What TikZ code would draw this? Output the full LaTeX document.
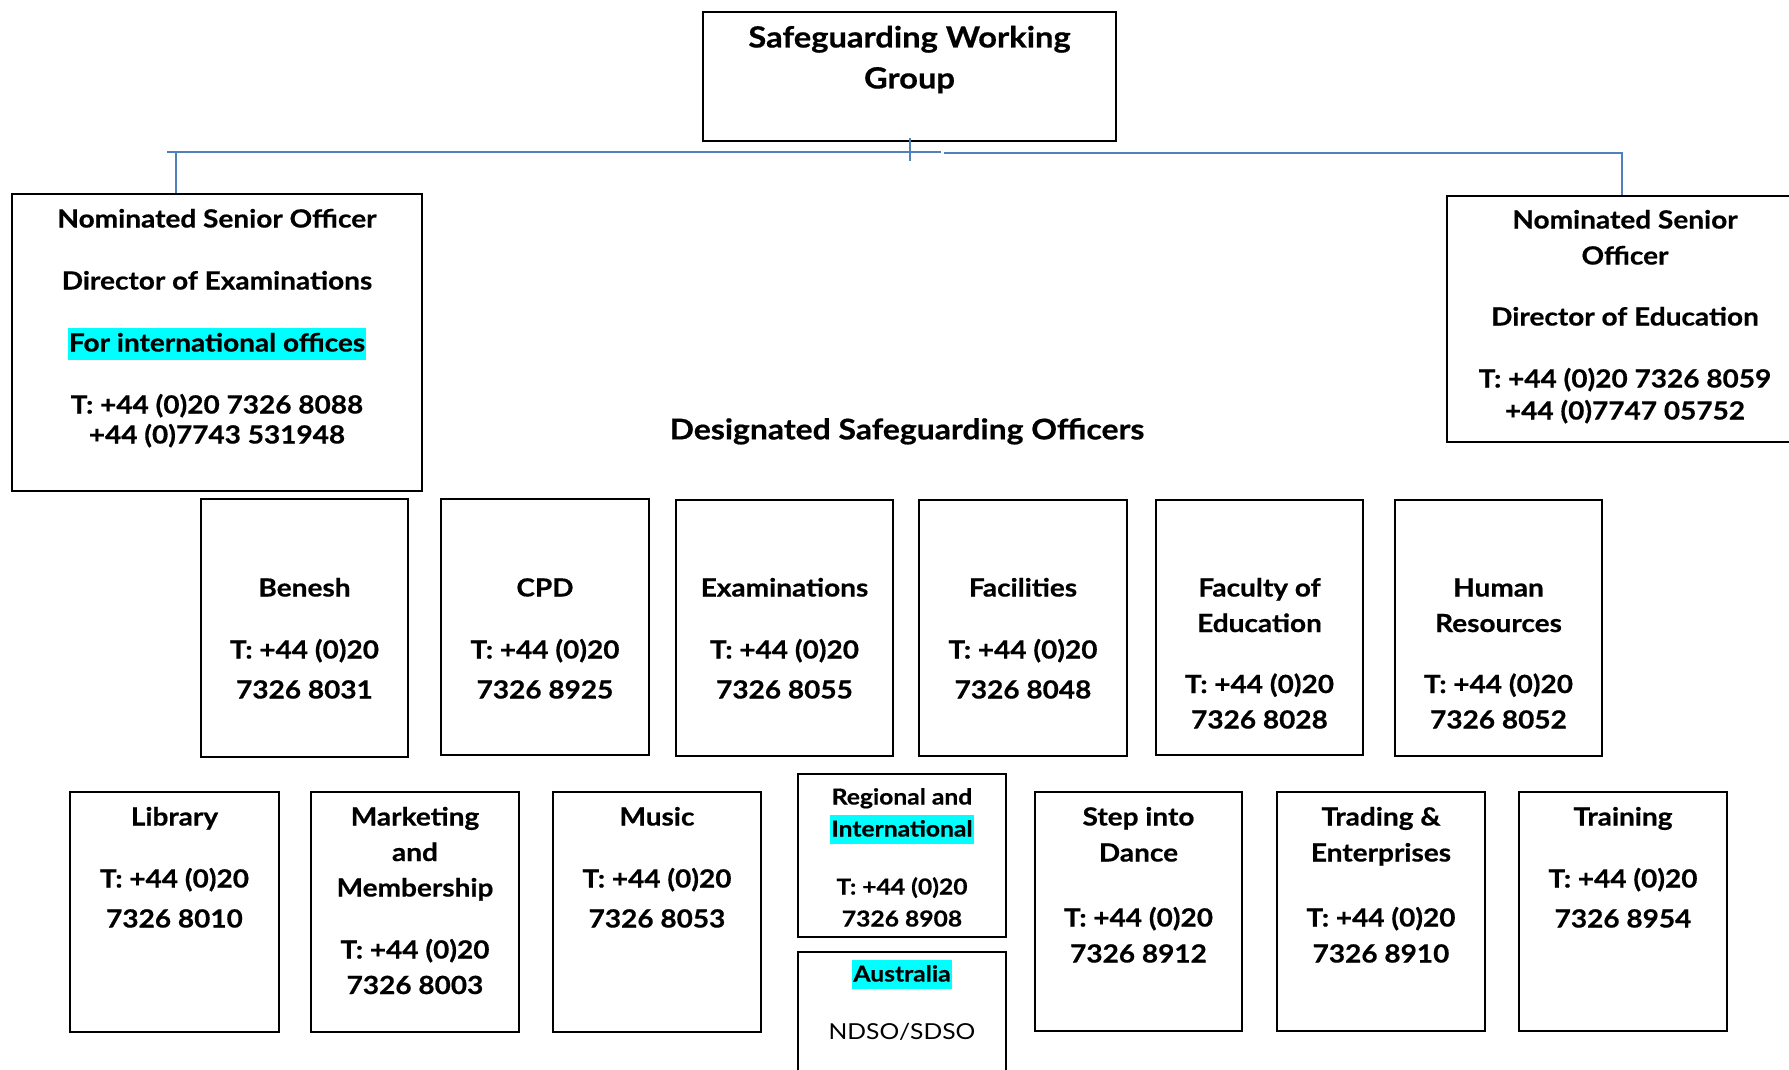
\documentclass[tikz,border=0pt]{standalone}
\usepackage{fontspec}
\setmainfont{Lato}[FakeStretch=1.12, BoldFeatures={FakeBold=0.6}]
\usetikzlibrary{fit}
\definecolor{connblue}{RGB}{79,129,189}
\definecolor{hlcyan}{RGB}{0,255,255}
% cyan text highlight
\newcommand\hilite[1]{{\setlength{\fboxsep}{0pt}\colorbox{hlcyan}{\rule[-0.32em]{0pt}{1.28em}\kern0.5pt#1\kern0.5pt}}}
% fixed height above the first baseline of every label
\newcommand\swgstrut{\rule{0pt}{14pt}}
\tikzset{
  boxed/.style={draw=black, line width=0.9pt, inner sep=0pt},
  conn/.style={draw=connblue, line width=1pt},
  txt/.style={anchor=north, align=center, inner sep=0pt, font=\bfseries\fontsize{12.5}{19}\selectfont},
  txtone/.style={txt, font=\bfseries\fontsize{12.5}{20}\selectfont},
  txttwo/.style={txt, font=\bfseries\fontsize{12.5}{17.75}\selectfont},
  txtsmall/.style={txt, font=\bfseries\fontsize{11}{16}\selectfont},
}
\begin{document}
\begin{tikzpicture}[x=0.5pt,y=-0.5pt]
\path[use as bounding box] (0,0) rectangle (1789,1070);
\clip (0,0) rectangle (1789,1070);

% ---- frames ----
\node[boxed, fit={(703,12) (1116,141)}] (swg) {};
\node[boxed, fit={(12,194) (422,491)}] (nsoL) {};
\node[boxed, fit={(1447,196) (1803,442)}] (nsoR) {};

\node[boxed, fit={(201,499) (408,757)}] (benesh) {};
\node[boxed, fit={(441,499) (649,755)}] (cpd) {};
\node[boxed, fit={(676,500) (893,756)}] (exams) {};
\node[boxed, fit={(919,500) (1127,756)}] (facil) {};
\node[boxed, fit={(1156,500) (1363,755)}] (faced) {};
\node[boxed, fit={(1395,500) (1602,756)}] (hr) {};

\node[boxed, fit={(70,792) (279,1032)}] (library) {};
\node[boxed, fit={(311,792) (519,1032)}] (marketing) {};
\node[boxed, fit={(553,792) (761,1032)}] (music) {};
\node[boxed, fit={(798,774) (1006,937)}] (regional) {};
\node[boxed, fit={(798,952) (1006,1090)}] (australia) {};
\node[boxed, fit={(1035,792) (1242,1031)}] (stepdance) {};
\node[boxed, fit={(1277,792) (1485,1031)}] (trading) {};
\node[boxed, fit={(1519,792) (1727,1031)}] (training) {};

% ---- connectors ----
\coordinate (busW) at (167,152);
\coordinate (busGap) at (941,152);
\coordinate (busE) at (944,153);
\coordinate (dropW) at (176,152);
\coordinate (dropE) at (1622,153);
\draw[conn] ([yshift=2pt]swg.south) -- ++(0,23);
\draw[conn] (busW) -- (busGap);
\draw[conn] (dropW) -- (dropW |- nsoL.north);
\draw[conn] (busE) -- (dropE) -- (dropE |- nsoR.north);

% ---- labels ----
\node[txt, font=\bfseries\fontsize{14.6}{20.5}\selectfont] (swgT) at ([yshift=-4pt]swg.north)
  {\swgstrut Safeguarding Working\\Group};

\node[txt, font=\bfseries\fontsize{12.5}{15}\selectfont] (nsoLT) at ([yshift=-3pt]nsoL.north)
  {\swgstrut Nominated Senior Officer\\[16pt]
   Director of Examinations\\[16pt]
   \hilite{For international offices}\\[16pt]
   T: +44 (0)20 7326 8088\\
   +44 (0)7743 531948};

\node[txt, font=\bfseries\fontsize{12.5}{18}\selectfont] (nsoRT) at ([yshift=-2.5pt]nsoR.north)
  {\swgstrut Nominated Senior\\Officer\\[12.5pt]
   Director of Education\\[13pt]
   T: +44 (0)20 7326 8059\\[-2pt]
   +44 (0)7747 05752};

\node[txt, font=\bfseries\fontsize{14.25}{16}\selectfont] (dsoT) at (907,411)
  {\swgstrut Designated Safeguarding Officers};

\node[txtone] (beneshT) at ([yshift=-35pt]benesh.north) {\swgstrut Benesh\\[11pt]T: +44 (0)20\\7326 8031};
\node[txtone] (cpdT) at ([yshift=-35pt]cpd.north) {\swgstrut CPD\\[11pt]T: +44 (0)20\\7326 8925};
\node[txtone] (examsT) at ([yshift=-34.5pt]exams.north) {\swgstrut Examinations\\[11pt]T: +44 (0)20\\7326 8055};
\node[txtone] (facilT) at ([yshift=-34.5pt]facil.north) {\swgstrut Facilities\\[11pt]T: +44 (0)20\\7326 8048};
\node[txttwo] (facedT) at ([yshift=-34.5pt]faced.north) {\swgstrut Faculty of\\Education\\[12.75pt]T: +44 (0)20\\7326 8028};
\node[txttwo] (hrT) at ([yshift=-34.5pt]hr.north) {\swgstrut Human\\Resources\\[12.75pt]T: +44 (0)20\\7326 8052};

\node[txt, font=\bfseries\fontsize{12.5}{20}\selectfont] (libraryT) at ([yshift=-3pt]library.north) {\swgstrut Library\\[11pt]T: +44 (0)20\\7326 8010};
\node[txttwo] (marketingT) at ([yshift=-3pt]marketing.north) {\swgstrut Marketing\\and\\Membership\\[13.25pt]T: +44 (0)20\\7326 8003};
\node[txt, font=\bfseries\fontsize{12.5}{20}\selectfont] (musicT) at ([yshift=-3pt]music.north) {\swgstrut Music\\[11pt]T: +44 (0)20\\7326 8053};
\node[txtsmall] (regionalT) at ([yshift=-1.5pt]regional.north) {\swgstrut Regional and\\\hilite{International}\\[13pt]T: +44 (0)20\\7326 8908};
\node[txtsmall] (australiaT) at ([yshift=-1pt]australia.north) {\swgstrut\hilite{Australia}\\[13pt]{\mdseries NDSO/SDSO}};
\node[txt, font=\bfseries\fontsize{12.5}{18}\selectfont] (stepdanceT) at ([yshift=-3pt]stepdance.north) {\swgstrut Step into\\Dance\\[14.5pt]T: +44 (0)20\\7326 8912};
\node[txt, font=\bfseries\fontsize{12.5}{18}\selectfont] (tradingT) at ([yshift=-3pt]trading.north) {\swgstrut Trading \&\\Enterprises\\[14.5pt]T: +44 (0)20\\7326 8910};
\node[txt, font=\bfseries\fontsize{12.5}{20}\selectfont] (trainingT) at ([yshift=-3pt]training.north) {\swgstrut Training\\[11pt]T: +44 (0)20\\7326 8954};
\end{tikzpicture}
\end{document}
